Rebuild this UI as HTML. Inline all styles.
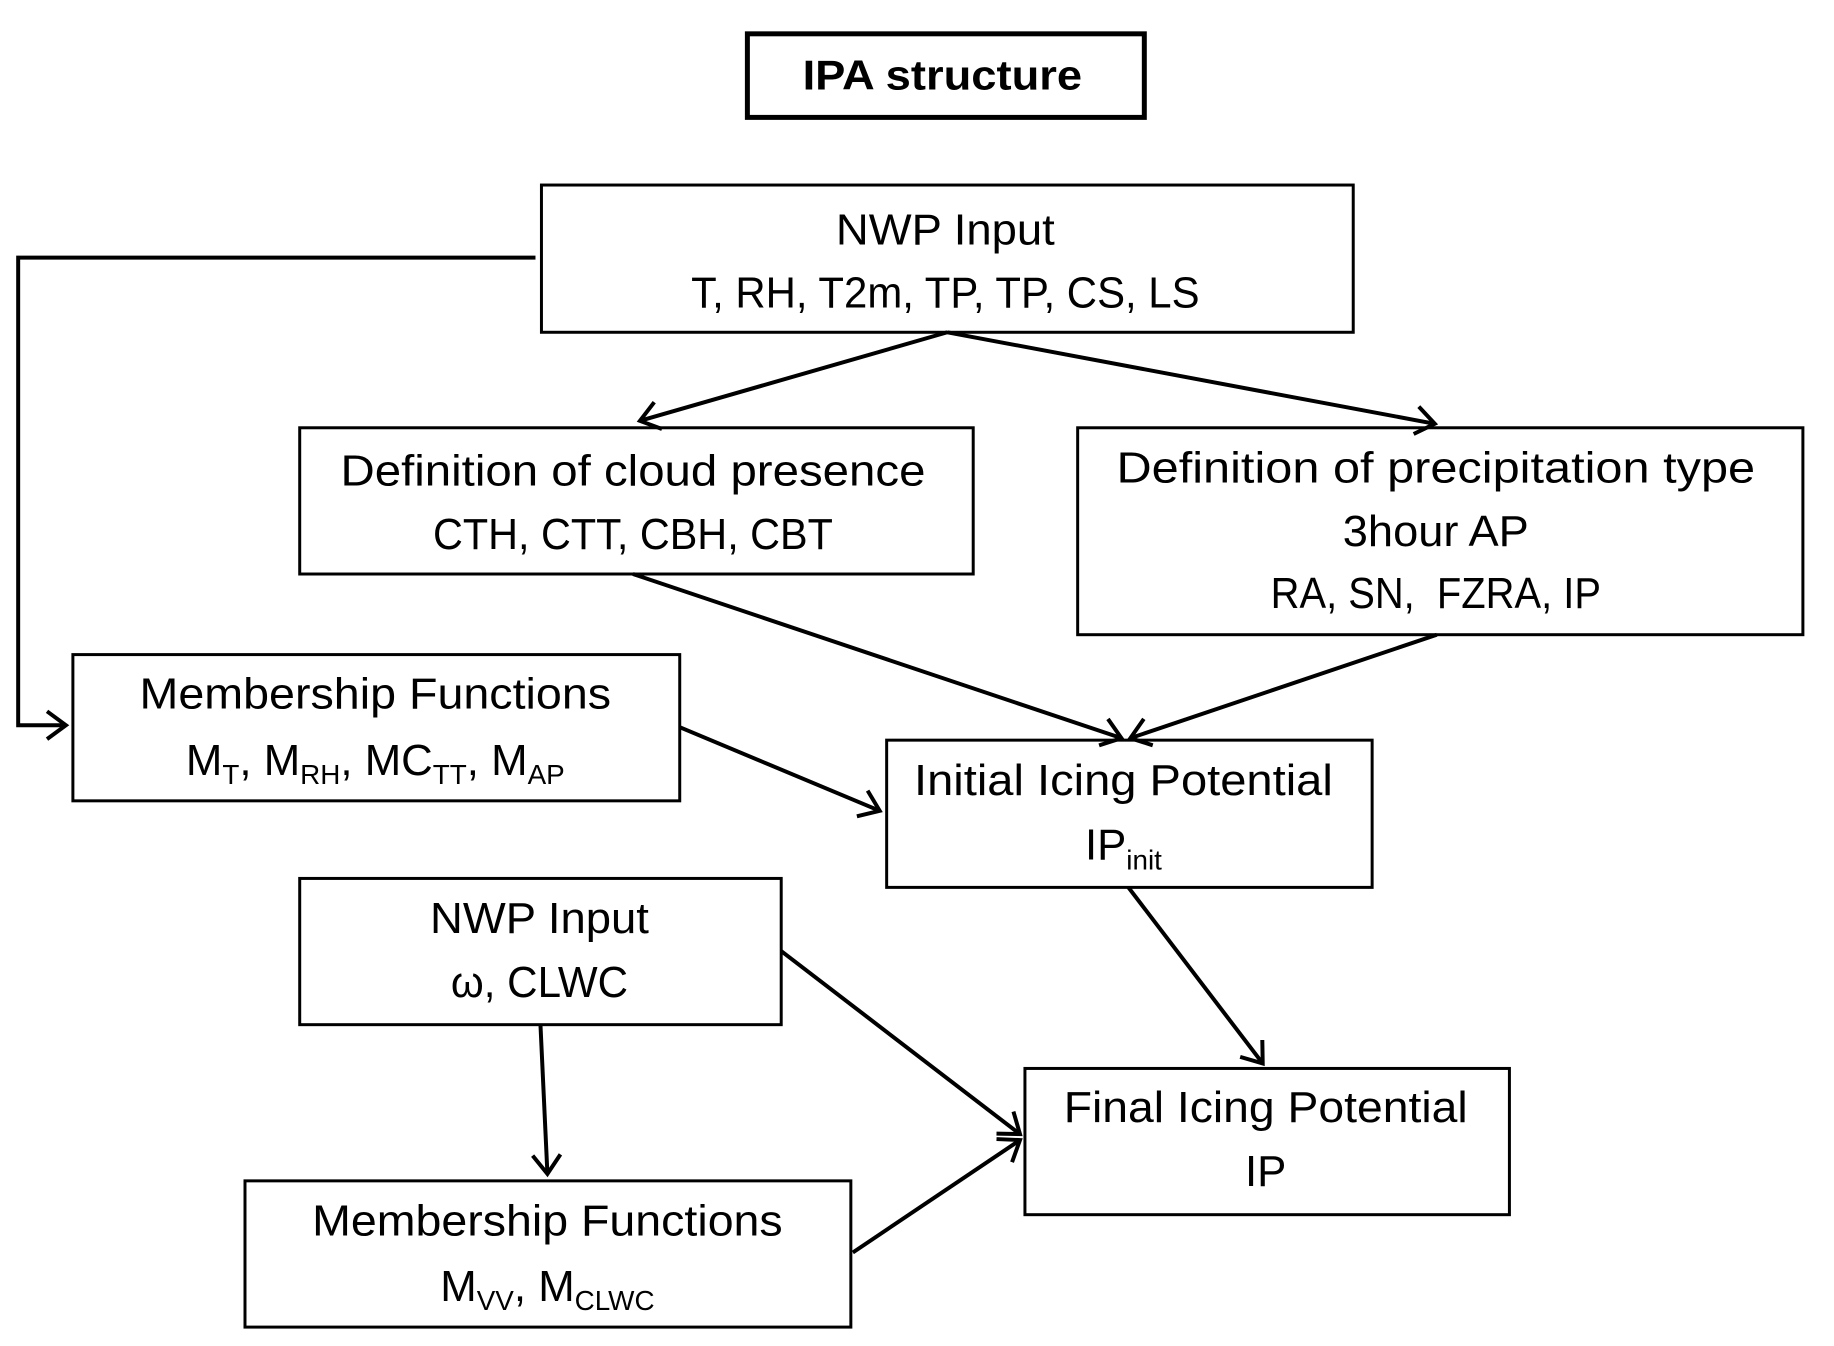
<!DOCTYPE html>
<html><head><meta charset="utf-8"><style>
html,body{margin:0;padding:0;background:#fff;}
svg{display:block;}
text{font-family:"Liberation Sans",sans-serif;font-size:44px;fill:#000;text-anchor:middle;}
</style></head><body>
<svg width="1834" height="1346" viewBox="0 0 1843 1353" xmlns="http://www.w3.org/2000/svg">
<defs>
<marker id="a" markerWidth="12" markerHeight="12" refX="9" refY="6" orient="auto" markerUnits="userSpaceOnUse" viewBox="0 0 12 12" overflow="visible">
<polyline points="-10,-8 9,6 -10,20" fill="none" stroke="#000" stroke-width="4"/>
</marker>
</defs>
<g fill="none" stroke="#000" stroke-width="3">
<rect x="751" y="34" width="399" height="84" stroke-width="5"/>
<rect x="544" y="186" width="816" height="148"/>
<rect x="301" y="430" width="677" height="147"/>
<rect x="1083" y="430" width="729" height="208"/>
<rect x="73" y="658" width="610" height="147"/>
<rect x="891" y="744" width="488" height="148"/>
<rect x="301" y="883" width="484" height="147"/>
<rect x="1030" y="1074" width="487" height="147"/>
<rect x="246" y="1187" width="609" height="147"/>
</g>
<g fill="none" stroke="#000" stroke-width="4">
<polyline points="538,259 18,259 18,729 66,729" marker-end="url(#a)"/>
<line x1="952" y1="334" x2="643" y2="423" marker-end="url(#a)"/>
<line x1="952" y1="334" x2="1442" y2="426" marker-end="url(#a)"/>
<line x1="636" y1="577" x2="1127" y2="742" marker-end="url(#a)"/>
<line x1="1444" y1="638" x2="1136" y2="742" marker-end="url(#a)"/>
<line x1="683" y1="731" x2="884" y2="815" marker-end="url(#a)"/>
<line x1="1134" y1="892" x2="1269" y2="1069" marker-end="url(#a)"/>
<line x1="785" y1="956" x2="1025" y2="1140" marker-end="url(#a)"/>
<line x1="543" y1="1030" x2="550" y2="1180" marker-end="url(#a)"/>
<line x1="857" y1="1259" x2="1025" y2="1146" marker-end="url(#a)"/>
</g>
<text x="947" y="90" style="font-weight:bold;font-size:42px" textLength="281" lengthAdjust="spacingAndGlyphs">IPA structure</text>
<text x="950" y="246" textLength="220" lengthAdjust="spacingAndGlyphs">NWP Input</text>
<text x="950" y="309" textLength="511" lengthAdjust="spacingAndGlyphs" font-size="46">T, RH, T2m, TP, TP, CS, LS</text>
<text x="636" y="488" textLength="588" lengthAdjust="spacingAndGlyphs">Definition of cloud presence</text>
<text x="636" y="552" textLength="402" lengthAdjust="spacingAndGlyphs" font-size="46">CTH, CTT, CBH, CBT</text>
<text x="1443" y="485" textLength="642" lengthAdjust="spacingAndGlyphs">Definition of precipitation type</text>
<text x="1443" y="549" textLength="187" lengthAdjust="spacingAndGlyphs">3hour AP</text>
<text x="1443" y="611" textLength="332" lengthAdjust="spacingAndGlyphs" font-size="46">RA, SN,&#160; FZRA, IP</text>
<text x="377" y="712" textLength="474" lengthAdjust="spacingAndGlyphs">Membership Functions</text>
<text x="377" y="779" font-size="46">M<tspan font-size="28" dy="9">T</tspan><tspan dy="-9">, M</tspan><tspan font-size="28" dy="9">RH</tspan><tspan dy="-9">, MC</tspan><tspan font-size="28" dy="9">TT</tspan><tspan dy="-9">, M</tspan><tspan font-size="28" dy="9">AP</tspan></text>
<text x="1129" y="799" textLength="421" lengthAdjust="spacingAndGlyphs">Initial Icing Potential</text>
<text x="1129" y="864">IP<tspan font-size="28" dy="10">init</tspan></text>
<text x="542" y="938" textLength="220" lengthAdjust="spacingAndGlyphs">NWP Input</text>
<text x="542" y="1002" textLength="178" lengthAdjust="spacingAndGlyphs" font-size="46">ω, CLWC</text>
<text x="1272" y="1128" textLength="406" lengthAdjust="spacingAndGlyphs">Final Icing Potential</text>
<text x="1272" y="1192">IP</text>
<text x="550" y="1242" textLength="473" lengthAdjust="spacingAndGlyphs">Membership Functions</text>
<text x="550" y="1308" font-size="46">M<tspan font-size="28" dy="9">VV</tspan><tspan dy="-9">, M</tspan><tspan font-size="28" dy="9">CLWC</tspan></text>
</svg>
</body></html>
